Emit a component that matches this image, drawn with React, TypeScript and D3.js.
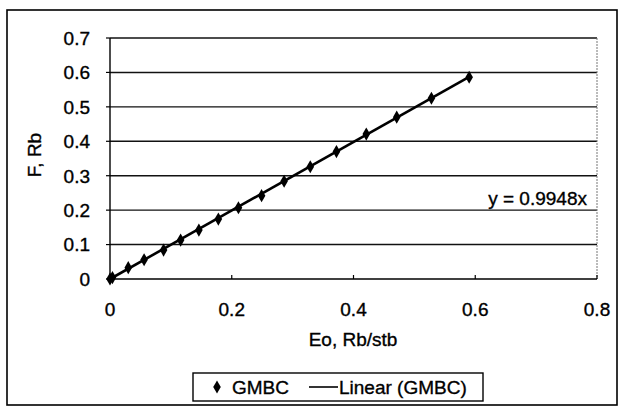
import React from 'react';
import * as d3 from 'd3';

// GMBC material balance points (Eo vs F)
const eoValues = [0, 0.004, 0.03, 0.056, 0.088, 0.116, 0.146, 0.178, 0.211, 0.249, 0.286, 0.329, 0.372, 0.421, 0.471, 0.528, 0.59];
const fValues = [0, 0.004, 0.033, 0.056, 0.084, 0.113, 0.142, 0.174, 0.207, 0.242, 0.284, 0.326, 0.37, 0.421, 0.47, 0.525, 0.586];
const slope = 0.9948;
const xTicks = [0, 0.2, 0.4, 0.6, 0.8];
const yTicks = [0, 0.1, 0.2, 0.3, 0.4, 0.5, 0.6, 0.7];

const width = 624;
const height = 408;
const font = "'Liberation Sans', Arial, sans-serif";
// scanned text looks a bit heavier than plain Arial
const ink = {fill: '#000', stroke: '#000', strokeWidth: 0.35};

export default function App() {
  const x = d3.scaleLinear().domain([0, 0.8]).range([110, 597]);
  const y = d3.scaleLinear().domain([0, 0.7]).range([279, 38]);

  const points = eoValues.map((e, i) => [e, fValues[i]] as [number, number]);
  const maxX = d3.max(eoValues) as number;
  const trend = d3.line<number>().x(d => x(d)).y(d => y(d * slope))([0, maxX]) as string;
  const diamond = d3.symbol().type(d3.symbolDiamond).size(50)() as string;

  return (
    <svg width={width} height={height} style={{position: 'absolute', left: 0, top: 0}} fontFamily={font}>
      <rect x={0} y={0} width={width} height={height} fill="#fff" />
      <rect x={7} y={10} width={610} height={395} fill="none" stroke="#000" strokeWidth={1.6} />

      {/* gridlines */}
      {yTicks.slice(1).map(t => (
        <line key={t} x1={x(0)} x2={x(0.8)} y1={y(t)} y2={y(t)} stroke="#111" strokeWidth={1.4} />
      ))}
      <line x1={x(0.8)} x2={x(0.8)} y1={y(0.7)} y2={y(0)} stroke="#777" strokeWidth={1} strokeDasharray="2,1" />

      {/* axes */}
      <line x1={x(0)} x2={x(0)} y1={y(0.7)} y2={y(0)} stroke="#000" strokeWidth={1.4} />
      <line x1={x(0)} x2={x(0.8)} y1={y(0)} y2={y(0)} stroke="#000" strokeWidth={1.4} />
      {xTicks.map(t => (
        <line key={t} x1={x(t)} x2={x(t)} y1={y(0)} y2={y(0) - 4} stroke="#000" strokeWidth={1.2} />
      ))}
      {yTicks.map(t => (
        <line key={t} x1={x(0) - 4} x2={x(0)} y1={y(t)} y2={y(t)} stroke="#000" strokeWidth={1.2} />
      ))}

      {yTicks.map(t => (
        <text key={t} x={90} y={y(t)} dy="0.36em" textAnchor="end" fontSize={19} {...ink}>
          {d3.format('')(t)}
        </text>
      ))}
      {xTicks.map(t => (
        <text key={t} x={x(t)} y={316} textAnchor="middle" fontSize={19} {...ink}>
          {d3.format('')(t)}
        </text>
      ))}

      <text x={353} y={346} textAnchor="middle" fontSize={19} {...ink}>Eo, Rb/stb</text>
      <text transform="translate(41,155) rotate(-90)" textAnchor="middle" fontSize={19} {...ink}>F, Rb</text>

      {/* trend line and markers */}
      <path d={trend} fill="none" stroke="#000" strokeWidth={2.6} />
      {points.map((p, i) => (
        <path key={i} d={diamond} transform={`translate(${x(p[0])},${y(p[1])})`} fill="#000" />
      ))}

      <text x={587} y={205} textAnchor="end" fontSize={19} {...ink}>y = 0.9948x</text>

      {/* legend */}
      <rect x={193} y={373} width={290} height={28} fill="#fff" stroke="#000" strokeWidth={1.4} />
      <path d={diamond} transform="translate(217,387)" fill="#000" />
      <text x={232} y={394} fontSize={19} {...ink}>GMBC</text>
      <line x1={309} x2={338} y1={387} y2={387} stroke="#000" strokeWidth={1.6} />
      <text x={339} y={394} fontSize={19} {...ink}>Linear (GMBC)</text>
    </svg>
  );
}
